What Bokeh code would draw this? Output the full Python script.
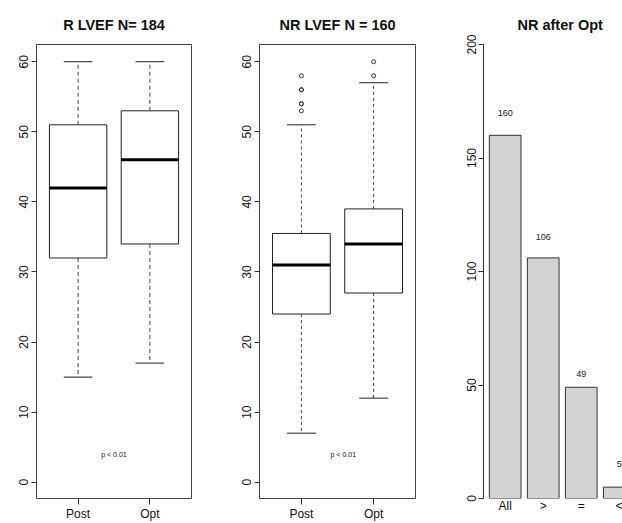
from bokeh.plotting import figure
from bokeh.layouts import row
from bokeh.models import FixedTicker, Range1d
from bokeh.core.properties import value
from bokeh.embed import file_html
from bokeh.resources import INLINE

FONT = "Liberation Sans"

# ---- data ----
groups = ["Post", "Opt"]
box_y_ticks = [0, 10, 20, 30, 40, 50, 60]

r_lower = [15, 17]
r_q1 = [32, 34]
r_median = [42, 46]
r_q3 = [51, 53]
r_upper = [60, 60]
r_outliers = [[], []]

nr_lower = [7, 12]
nr_q1 = [24, 27]
nr_median = [31, 34]
nr_q3 = [35.5, 39]
nr_upper = [51, 57]
nr_outliers = [[58, 56, 56, 54, 54, 53], [60, 58]]

bar_names = ["All", ">", "=", "<"]
bar_values = [160, 106, 49, 5]
bar_label_heights = [170, 115, 55, 15]
bar_y_ticks = [0, 50, 100, 150, 200]

p_text = "p < 0.01"

FIG_H = 523


def style_common(p):
    p.xgrid.visible = False
    p.ygrid.visible = False
    p.background_fill_color = "white"
    p.border_fill_color = "white"
    for ax in (p.xaxis[0], p.yaxis[0]):
        ax.major_label_text_font = FONT
        ax.major_label_text_font_size = "12px"
        ax.major_label_text_color = "#111111"
        ax.minor_tick_line_color = None
        ax.major_tick_in = 0
        ax.major_tick_out = 5
        ax.major_tick_line_color = "#333333"
        ax.axis_line_color = "#333333"
    p.yaxis.major_label_orientation = "vertical"
    p.yaxis.major_label_standoff = 3
    p.title.text_font = FONT
    p.title.text_font_style = "bold"
    p.title.text_font_size = "14.5px"
    p.title.text_color = "#111111"
    p.title.standoff = 23


def box_figure(title, lower, q1, med, q3, upper, outliers, dash, ptext_x,
               width, border_left, border_right):
    p = figure(width=width, height=FIG_H,
               x_range=Range1d(0.42, 2.58), y_range=Range1d(-2.32, 62.46),
               output_backend="svg", toolbar_location=None,
               min_border_left=border_left, min_border_right=border_right,
               min_border_top=44, min_border_bottom=24)
    p.title.text = title
    p.title.align = "center"
    style_common(p)
    p.outline_line_color = "#444444"
    p.outline_line_width = 1
    p.xaxis.axis_line_color = None
    p.yaxis.axis_line_color = None
    p.xaxis.major_tick_out = 6
    p.xaxis.major_label_standoff = 2

    xs = [i + 1 for i in range(len(groups))]
    p.xaxis.ticker = FixedTicker(ticks=xs)
    p.xaxis.major_label_overrides = {x: g for x, g in zip(xs, groups)}
    p.yaxis.ticker = FixedTicker(ticks=box_y_ticks)

    # whiskers
    p.segment(x0=xs, y0=q3, x1=xs, y1=upper, line_color="#444444",
              line_dash=dash, line_width=1)
    p.segment(x0=xs, y0=q1, x1=xs, y1=lower, line_color="#444444",
              line_dash=dash, line_width=1)
    # caps
    p.segment(x0=[x - 0.2 for x in xs], y0=upper, x1=[x + 0.2 for x in xs],
              y1=upper, line_color="#222222", line_width=1)
    p.segment(x0=[x - 0.2 for x in xs], y0=lower, x1=[x + 0.2 for x in xs],
              y1=lower, line_color="#222222", line_width=1)
    # boxes
    p.quad(left=[x - 0.4 for x in xs], right=[x + 0.4 for x in xs],
           bottom=q1, top=q3, fill_color="white", line_color="#222222",
           line_width=1)
    # medians
    p.segment(x0=[x - 0.4 for x in xs], y0=med, x1=[x + 0.4 for x in xs],
              y1=med, line_color="black", line_width=3)
    # outliers
    ox, oy = [], []
    for x, outs in zip(xs, outliers):
        for v in outs:
            ox.append(x)
            oy.append(v)
    if ox:
        p.scatter(x=ox, y=oy, marker="circle", size=4, fill_color=None,
                  line_color="#333333", line_width=1)
    p.text(x=[ptext_x], y=[4], text=[p_text], text_font=value(FONT),
           text_font_size="7px", text_align="center", text_baseline="middle",
           text_color="#111111")
    return p


p1 = box_figure("R LVEF N= 184", r_lower, r_q1, r_median, r_q3, r_upper,
                r_outliers, "4 3", 1.5, 212, 36, 21)
p2 = box_figure("NR LVEF N = 160", nr_lower, nr_q1, nr_median, nr_q3, nr_upper,
                nr_outliers, "3 3", 1.58, 210, 47, 7)

# ---- bar chart ----
centers = [i + 1 for i in range(len(bar_names))]
p3 = figure(width=200, height=FIG_H,
            x_range=Range1d(0.43, 4.085), y_range=Range1d(0, 200),
            output_backend="svg", toolbar_location=None,
            min_border_left=61, min_border_right=0,
            min_border_top=44, min_border_bottom=23)
p3.title.text = "NR after Opt"
p3.title.align = "left"
p3.title.offset = 34
style_common(p3)
p3.outline_line_color = None
p3.yaxis.ticker = FixedTicker(ticks=bar_y_ticks)
p3.yaxis.bounds = (bar_y_ticks[0], bar_y_ticks[-1])
p3.xaxis.ticker = FixedTicker(ticks=centers)
p3.xaxis.major_label_overrides = {c: n for c, n in zip(centers, bar_names)}
p3.xaxis.axis_line_color = None
p3.xaxis.major_tick_line_color = None
p3.xaxis.major_tick_out = 0
p3.xaxis.major_label_standoff = 0

p3.vbar(x=centers, top=bar_values, bottom=0, width=1 / 1.2,
        fill_color="#d3d3d3", line_color="#333333", line_width=1)
p3.text(x=centers, y=bar_label_heights, text=[str(v) for v in bar_values],
        text_font=value(FONT), text_font_size="9px", text_align="center",
        text_baseline="middle", text_color="#222222")

layout = row(p1, p2, p3, spacing=0)
open("out.html", "w").write(file_html(layout, INLINE))
